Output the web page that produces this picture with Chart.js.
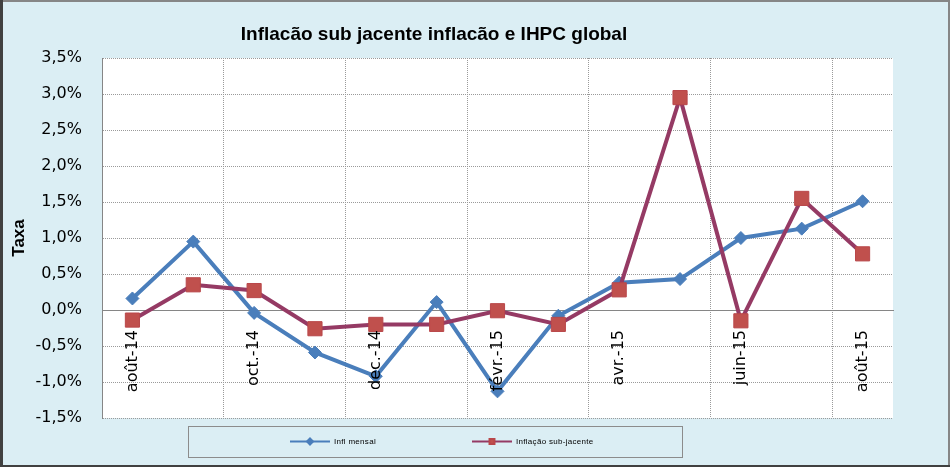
<!DOCTYPE html>
<html>
<head>
<meta charset="utf-8">
<script src="https://cdn.jsdelivr.net/npm/chart.js@4.4.1/dist/chart.umd.min.js"></script>
<style>
  html, body { margin: 0; padding: 0; background: #dbeef4; }
  canvas { display: block; }
</style>
</head>
<body>
<canvas id="chart" width="950" height="467"></canvas>
<script>
const chartTitle = "Inflacão sub jacente inflacão e IHPC global";
const yAxisTitle = "Taxa";

// months, Aug 2014 -> Aug 2015 (only every other one is labelled)
const months = [
  "août-14", "sept.-14", "oct.-14", "nov.-14", "dec.-14", "janv.-15", "févr.-15",
  "mars-15", "avr.-15", "mai-15", "juin-15", "juil.-15", "août-15"
];

// values in %
const inflMensal = [0.16, 0.95, -0.04, -0.59, -0.92, 0.11, -1.13, -0.08, 0.38, 0.43, 1.0, 1.13, 1.51];
const inflSubJacente = [-0.14, 0.35, 0.27, -0.26, -0.2, -0.2, -0.01, -0.2, 0.28, 2.95, -0.15, 1.55, 0.78];

const yMin = -1.5;
const yMax = 3.5;
const yStep = 0.5;

const BG = "#dbeef4";
const GRID = "#9a9a9a";
const AXIS = "#868686";

/* background, frame and white plot area */
const frame = {
  id: "frame",
  beforeDraw(chart) {
    const { ctx, width, height, chartArea: a } = chart;
    ctx.save();
    ctx.fillStyle = BG;
    ctx.fillRect(0, 0, width, height);
    ctx.fillStyle = "#ffffff";
    ctx.fillRect(a.left, a.top, a.right - a.left, a.bottom - a.top);
    // outer border
    ctx.fillStyle = "#868686";
    ctx.fillRect(0, 0, width, 2);
    ctx.fillRect(width - 2, 0, 2, height);
    ctx.fillStyle = "#404040";
    ctx.fillRect(0, 0, 3, height);
    ctx.fillRect(0, height - 2, width, 2);
    ctx.restore();
  }
};

/* title and boxed legend, like the Excel original */
const titleAndLegend = {
  id: "titleAndLegend",
  afterDraw(chart) {
    const ctx = chart.ctx;
    ctx.save();
    ctx.fillStyle = "#000";
    ctx.font = "bold 19px 'Liberation Sans', Arial, sans-serif";
    ctx.textAlign = "center";
    ctx.textBaseline = "alphabetic";
    ctx.fillText(chartTitle, 434, 40);

    // legend box
    ctx.strokeStyle = "#8c8c8c";
    ctx.lineWidth = 1;
    ctx.strokeRect(188.5, 426.5, 494, 31);

    const itemX = [290, 472];
    const y = 441.5;
    chart.data.datasets.forEach((ds, i) => {
      const x = itemX[i];
      ctx.strokeStyle = ds.borderColor;
      ctx.lineWidth = 2;
      ctx.beginPath();
      ctx.moveTo(x, y);
      ctx.lineTo(x + 40, y);
      ctx.stroke();
      ctx.fillStyle = ds.pointBackgroundColor;
      ctx.strokeStyle = ds.pointBorderColor;
      Chart.helpers.drawPoint(ctx, {
        pointStyle: ds.pointStyle,
        radius: ds.pointStyle === "rect" ? 3.5 : 3,
        borderWidth: 1,
        rotation: 0
      }, x + 20, y);
      ctx.fillStyle = "#000";
      ctx.font = "8px 'Liberation Sans', Arial, sans-serif";
      ctx.letterSpacing = "0.3px";
      ctx.textAlign = "left";
      ctx.textBaseline = "middle";
      ctx.fillText(ds.label, x + 44, y);
      ctx.letterSpacing = "0px";
    });
    ctx.restore();
  }
};

new Chart(document.getElementById("chart"), {
  type: "line",
  data: {
    labels: months,
    datasets: [
      {
        label: "Infl mensal",
        data: inflMensal,
        borderColor: "#4a7ebb",
        borderWidth: 4,
        pointStyle: "rectRot",
        pointRadius: 6.5,
        pointBackgroundColor: "#4a7ebb",
        pointBorderColor: "#4a7ebb",
        pointBorderWidth: 1,
        tension: 0,
        order: 1
      },
      {
        label: "Inflação sub-jacente",
        data: inflSubJacente,
        borderColor: "#953a64",
        borderWidth: 4,
        pointStyle: "rect",
        pointRadius: 10,
        pointBackgroundColor: "#c0504d",
        pointBorderColor: "#b9474a",
        pointBorderWidth: 1,
        tension: 0,
        order: 0
      }
    ]
  },
  options: {
    responsive: false,
    animation: false,
    events: [],
    devicePixelRatio: 1,
    layout: { padding: { left: 0, top: 58, right: 57, bottom: 49 } },
    plugins: {
      legend: { display: false },
      title: { display: false },
      tooltip: { enabled: false }
    },
    scales: {
      x: {
        type: "category",
        position: { y: 0 },
        offset: true,
        grid: {
          offset: true,
          drawTicks: false,
          lineWidth: 1,
          color: (c) => (c.index % 2 === 0 ? GRID : "rgba(0,0,0,0)")
        },
        border: { display: true, color: AXIS, width: 1, dash: [1, 1] },
        ticks: {
          z: 1, // labels sit on top of the lines, as in the original
          autoSkip: false,
          maxRotation: 90,
          minRotation: 90,
          padding: 20,
          color: "#000",
          font: { family: "'DejaVu Sans', sans-serif", size: 16 },
          callback: function (value, index) {
            return index % 2 === 0 ? this.getLabelForValue(value) : "";
          }
        }
      },
      y: {
        min: yMin,
        max: yMax,
        grid: { drawTicks: false, color: GRID, lineWidth: 1 },
        border: { display: true, color: AXIS, width: 1, dash: [1, 1] },
        ticks: {
          stepSize: yStep,
          padding: 20,
          color: "#000",
          font: { family: "'DejaVu Sans', sans-serif", size: 16 },
          callback: (v) => v.toFixed(1).replace(".", ",") + "%"
        },
        title: {
          display: true,
          text: yAxisTitle,
          color: "#000",
          font: { family: "'Liberation Sans', Arial, sans-serif", size: 17, weight: "bold" },
          padding: { top: 9, bottom: 0 }
        },
        afterFit: (scale) => { scale.width = 102; }
      }
    }
  },
  plugins: [frame, titleAndLegend]
});
</script>
</body>
</html>
